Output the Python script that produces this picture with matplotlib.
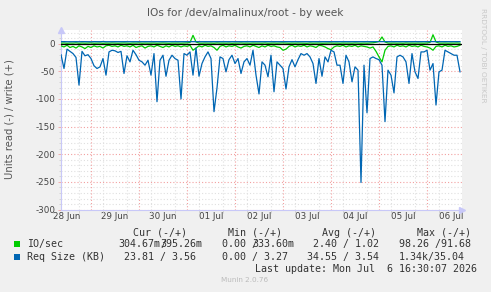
import matplotlib
matplotlib.use("Agg")
import matplotlib.pyplot as plt
import matplotlib.dates as mdates
import pandas as pd
from matplotlib.patches import Rectangle

# ---------------- data ----------------
start_time = "2026-06-28 09:00"
end_time = "2026-07-06 17:30"
step = "90min"

# Req Size (KB) read (plotted as negative)
req_read = [20, 45, 10, 14, 18, 25, 75, 14, 22, 20,
            27, 40, 45, 42, 27, 57, 15, 12, 13, 16,
            14, 54, 22, 33, 12, 20, 30, 33, 39, 30,
            57, 18, 105, 30, 21, 59, 30, 21, 27, 30,
            100, 18, 21, 15, 57, 8, 59, 36, 24, 15,
            27, 123, 80, 24, 27, 51, 29, 21, 36, 27,
            54, 33, 27, 39, 12, 57, 91, 33, 39, 60,
            21, 87, 33, 39, 45, 82, 42, 29, 42, 29,
            18, 21, 18, 24, 36, 72, 27, 59, 24, 33,
            12, 15, 39, 39, 72, 21, 33, 69, 42, 48,
            251, 39, 125, 27, 24, 27, 29, 39, 141, 48,
            57, 89, 24, 21, 24, 33, 72, 18, 51, 63,
            15, 15, 12, 48, 36, 111, 51, 48, 12, 15,
            18, 21, 21, 51]

# Req Size (KB) write (plotted as positive)
req_write = [3.5, 3.6, 3.4, 3.5, 3.7, 3.5, 3.4, 3.6, 3.5, 3.5,
             3.4, 3.6, 3.5, 3.5, 3.7, 3.4, 3.5, 3.6, 3.5, 3.4,
             3.5, 3.6, 3.5, 3.4, 3.5, 3.6, 3.5, 3.5, 3.4, 3.6,
             3.5, 3.5, 3.6, 3.4, 3.5, 3.5, 3.6, 3.5, 3.4, 3.5,
             3.6, 3.5, 3.5, 3.4, 3.7, 3.5, 3.5, 3.6, 3.5, 3.4,
             3.5, 3.6, 3.5, 3.5, 3.4, 3.6, 3.5, 3.5, 3.6, 3.4,
             3.5, 3.5, 3.6, 3.5, 3.4, 3.5, 3.6, 3.5, 3.5, 3.4,
             3.6, 3.5, 3.5, 3.4, 3.6, 3.5, 3.5, 3.6, 3.4, 3.5,
             3.5, 3.6, 3.5, 3.4, 3.5, 3.5, 3.6, 3.5, 3.4, 3.5,
             3.6, 3.5, 3.5, 3.4, 3.6, 3.5, 3.5, 3.6, 3.5, 3.4,
             3.5, 3.6, 3.5, 3.5, 3.4, 3.6, 3.7, 3.5, 3.5, 3.4,
             3.5, 3.6, 3.5, 3.4, 3.5, 3.5, 3.6, 3.5, 3.4, 3.5,
             3.6, 3.5, 3.5, 3.4, 3.6, 3.5, 3.5, 3.6, 3.5, 3.4,
             3.5, 3.6, 3.5, 3.56]

# IO/sec read (plotted as negative)
io_read = [4, 6, 3, 7, 5, 8, 4, 6, 9, 5,
           7, 4, 6, 5, 8, 4, 3, 5, 4, 6,
           3, 5, 4, 6, 3, 7, 5, 4, 8, 5,
           4, 6, 3, 5, 7, 4, 6, 3, 5, 4,
           6, 4, 5, 3, 12, 8, 4, 6, 3, 5,
           4, 7, 12, 5, 3, 6, 4, 5, 3, 6,
           8, 5, 4, 6, 3, 5, 7, 4, 6, 3,
           5, 4, 6, 7, 12, 10, 5, 3, 6, 4,
           5, 3, 6, 4, 5, 7, 3, 4, 6, 9,
           11, 6, 4, 5, 3, 6, 4, 5, 3, 6,
           4, 5, 6, 8, 6, 14, 24, 33, 12, 5,
           4, 6, 3, 5, 4, 6, 3, 5, 4, 6,
           3, 5, 6, 8, 12, 5, 4, 6, 3, 5,
           4, 6, 5, 3]

# IO/sec write (plotted as positive)
io_write = [0.8, 1.2, 0.6, 1.0, 0.9, 1.4, 0.7, 1.1, 0.8, 1.0,
            1.3, 0.7, 0.9, 1.1, 0.6, 1.0, 0.8, 1.2, 0.9, 0.7,
            1.0, 1.2, 0.8, 0.6, 1.1, 0.9, 1.3, 0.7, 1.0, 0.8,
            0.9, 1.1, 0.7, 1.0, 1.2, 0.8, 0.6, 1.0, 0.9, 1.1,
            0.8, 1.0, 1.3, 2.0, 15.0, 3.0, 1.0, 0.8, 1.1, 0.9,
            1.0, 0.7, 1.2, 0.9, 1.0, 0.8, 1.1, 0.6, 1.0, 0.9,
            1.2, 0.8, 1.0, 0.7, 1.1, 0.9, 1.0, 0.8, 1.2, 0.7,
            0.9, 1.1, 0.8, 1.0, 1.3, 0.9, 0.7, 1.0, 0.8, 1.1,
            1.0, 0.9, 0.6, 1.2, 0.8, 1.0, 1.1, 0.7, 0.9, 1.0,
            1.2, 0.8, 1.0, 0.7, 1.1, 0.9, 1.0, 0.8, 1.2, 0.9,
            0.7, 1.0, 0.8, 1.1, 1.5, 2.5, 4.0, 12.0, 3.0, 1.0,
            0.9, 1.1, 0.8, 1.0, 0.7, 1.2, 0.9, 1.0, 0.8, 1.1,
            1.0, 0.8, 1.2, 2.0, 16.0, 3.0, 1.0, 0.9, 1.1, 0.8,
            1.0, 0.9, 1.2, 0.8]

y_ticks = [0, -50, -100, -150, -200, -250, -300]
y_min, y_max = -300, 24.6

title = "IOs for /dev/almalinux/root - by week"
y_label = "Units read (-) / write (+)"
legend_header = ["Cur (-/+)", "Min (-/+)", "Avg (-/+)", "Max (-/+)"]
series_names = ["IO/sec", "Req Size (KB)"]
io_stats = ["304.67m", "/", "395.26m", "0.00 /", "333.60m", "2.40 / 1.02", "98.26 /91.68"]
req_stats = ["23.81 / 3.56", "0.00 / 3.27", "34.55 / 3.54", "1.34k/35.04"]
last_update = "Last update: Mon Jul  6 16:30:07 2026"
munin_ver = "Munin 2.0.76"
side_text = "RRDTOOL / TOBI OETIKER"

GREEN = "#00CC00"
BLUE = "#0066B3"

# ---------------- figure ----------------
plt.rcParams["lines.scale_dashes"] = False
W, H = 491, 292
fig = plt.figure(figsize=(W / 100, H / 100), dpi=100, facecolor="#F0F0F0")
L, R, T, B = 61, 462, 30, 209.6
ax = fig.add_axes([L / W, 1 - B / H, (R - L) / W, (B - T) / H])
ax.set_facecolor("white")

times = pd.date_range(start_time, periods=len(req_read), freq=step).to_pydatetime()

ax.set_xlim(pd.Timestamp(start_time).to_pydatetime(), pd.Timestamp(end_time).to_pydatetime())
ax.set_ylim(y_min, y_max)

# grid
dots = (0, (0.8, 1.5))
GRID_MINOR = "#E0E0E0"
GRID_MAJOR = "#F2A0A0"
ax.yaxis.set_major_locator(matplotlib.ticker.FixedLocator(y_ticks))
ax.yaxis.set_minor_locator(matplotlib.ticker.MultipleLocator(10))
ax.xaxis.set_major_locator(mdates.HourLocator(byhour=[12]))
ax.xaxis.set_major_formatter(mdates.DateFormatter("%d %b"))
ax.xaxis.set_minor_locator(mdates.HourLocator(byhour=[6, 12, 18]))
ax.yaxis.grid(True, which="minor", color=GRID_MINOR, linestyle=dots, linewidth=0.8)
ax.yaxis.grid(True, which="major", color=GRID_MAJOR, linestyle=dots, linewidth=0.8)
ax.xaxis.grid(True, which="minor", color=GRID_MINOR, linestyle=dots, linewidth=0.8)
ax.xaxis.grid(False, which="major")
for d in pd.date_range("2026-06-29", "2026-07-06", freq="D"):
    ax.axvline(d.to_pydatetime(), color=GRID_MAJOR, linestyle=dots, linewidth=0.8, zorder=0.7)
ax.set_axisbelow(True)

# data
ax.plot(times, [-v for v in io_read], color=GREEN, lw=0.9, zorder=3)
ax.plot(times, io_write, color=GREEN, lw=0.9, zorder=3)
ax.plot(times, [-v for v in req_read], color=BLUE, lw=0.9, zorder=4)
ax.plot(times, req_write, color=BLUE, lw=0.9, zorder=4)
ax.axhline(0, color="black", lw=0.9, zorder=5)

# spines & ticks
for s in ["top", "right"]:
    ax.spines[s].set_visible(False)
for s in ["left", "bottom"]:
    ax.spines[s].set_color("#C8C8F8")
    ax.spines[s].set_linewidth(0.8)
ax.tick_params(axis="both", which="both", length=2, width=0.6, color="#D0D0D0",
               labelsize=6.3, labelcolor="#444444")
ax.tick_params(axis="x", which="major", length=0, pad=2)
ax.tick_params(axis="y", which="major", pad=2, color=GRID_MAJOR)
ax.tick_params(axis="y", which="minor", length=1.5)
ax.yaxis.set_major_formatter(matplotlib.ticker.FuncFormatter(lambda v, p: f"{int(v)}"))

# axis arrows
ax.plot([0], [1.0], marker="^", markersize=4.5, color="#C8C8F8", transform=ax.transAxes,
        clip_on=False, zorder=6)
ax.plot([1.0], [0], marker=">", markersize=4.5, color="#C8C8F8", transform=ax.transAxes,
        clip_on=False, zorder=6)

# texts
fig.text(245 / W, 1 - 13 / H, title, ha="center", va="center", fontsize=7.6, color="#555555")
fig.text(10 / W, 1 - 119 / H, y_label, ha="center", va="center", rotation=90,
         fontsize=7.2, color="#555555")
fig.text(483 / W, 1 - 55 / H, side_text, ha="center", va="center", rotation=270,
         fontsize=5.3, color="#C8C8C8")
fig.text(245 / W, 1 - 280.5 / H, munin_ver, ha="center", va="center", fontsize=5.2, color="#BBBBBB")

mono = dict(family="DejaVu Sans Mono", fontsize=7.2, color="#333333", va="center")
def ftxt(x, y, s):
    fig.text(x / W, 1 - y / H, s, **mono)

ftxt(133.3, 232.7, legend_header[0])
ftxt(227.7, 232.7, legend_header[1])
ftxt(322.0, 232.7, legend_header[2])
ftxt(416.7, 232.7, legend_header[3])

ftxt(26.7, 244.3, series_names[0])
ftxt(118.3, 244.3, io_stats[0])
ftxt(160.3, 244.3, io_stats[1])
ftxt(160.3, 244.3, io_stats[2])
ftxt(222.0, 244.3, io_stats[3])
ftxt(252.0, 244.3, io_stats[4])
ftxt(313.3, 244.3, io_stats[5])
ftxt(399.0, 244.3, io_stats[6])

ftxt(26.7, 256.7, series_names[1])
ftxt(124.3, 256.7, req_stats[0])
ftxt(222.0, 256.7, req_stats[1])
ftxt(306.7, 256.7, req_stats[2])
ftxt(399.0, 256.7, req_stats[3])

ftxt(255.3, 269.0, last_update)

fig.patches.append(Rectangle((14 / W, 1 - 247.3 / H), 6 / W, 6 / H, transform=fig.transFigure,
                             facecolor=GREEN, edgecolor="none"))
fig.patches.append(Rectangle((14 / W, 1 - 259.7 / H), 6 / W, 6 / H, transform=fig.transFigure,
                             facecolor=BLUE, edgecolor="none"))

fig.savefig("out.png", dpi=100, facecolor=fig.get_facecolor())
